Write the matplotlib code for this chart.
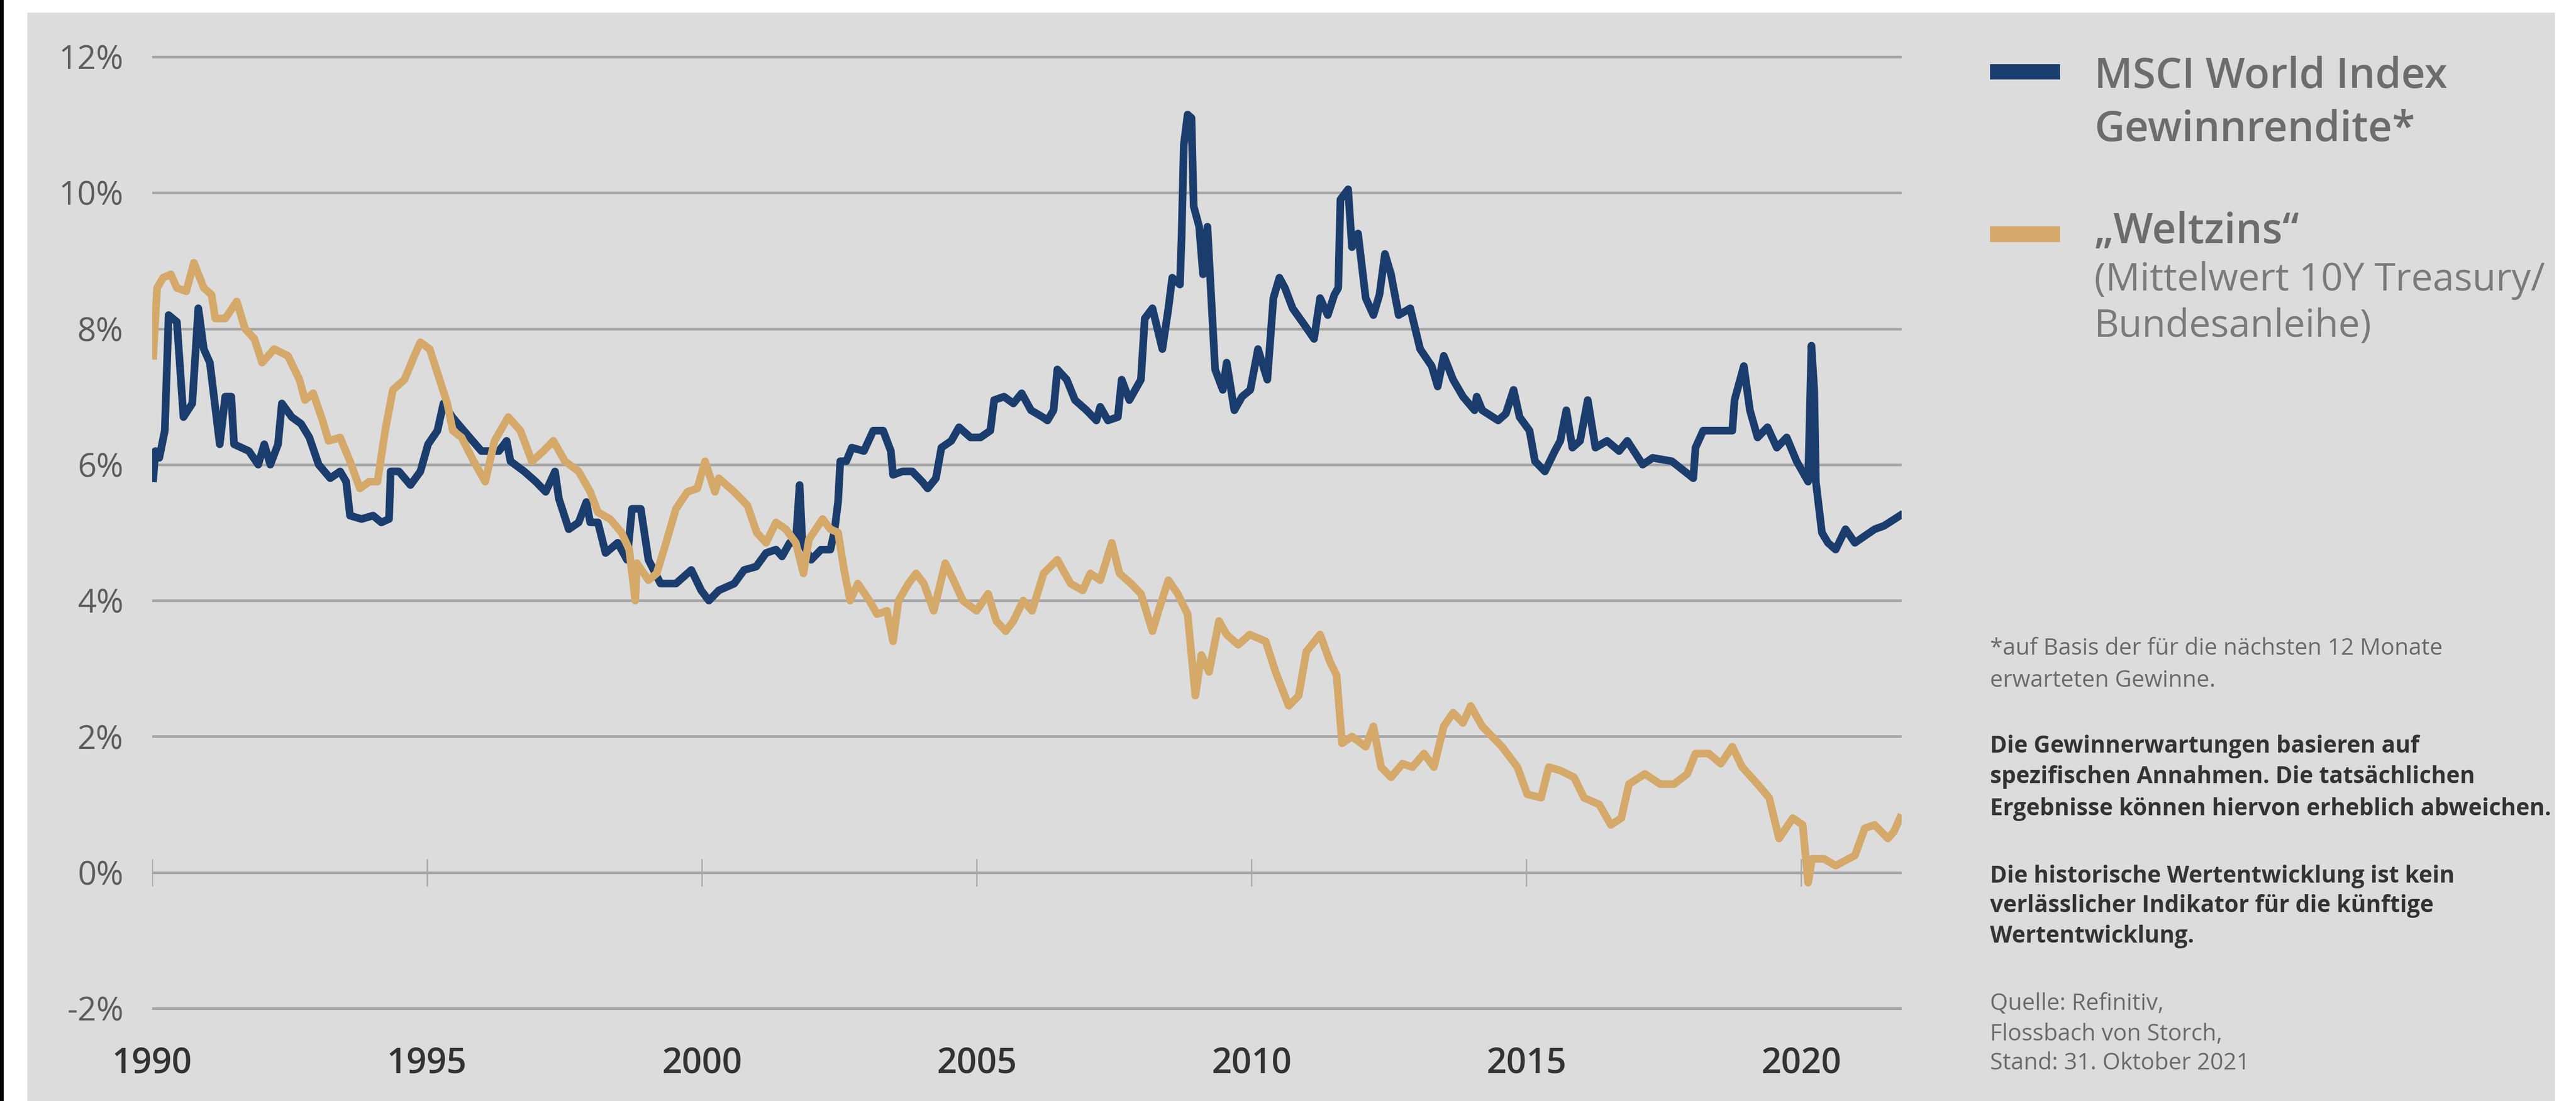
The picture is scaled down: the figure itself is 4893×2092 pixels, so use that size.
import matplotlib
matplotlib.use('Agg')
import matplotlib.pyplot as plt
from matplotlib.patches import Rectangle

# MSCI World Index Gewinnrendite (%)
msci_years = [1990.02, 1990.06, 1990.13, 1990.23, 1990.30, 1990.45, 1990.57, 1990.73, 1990.84, 1990.94,
              1991.05, 1991.23, 1991.33, 1991.44, 1991.49, 1991.76, 1991.93, 1992.04, 1992.15, 1992.29,
              1992.36, 1992.54, 1992.71, 1992.86, 1993.03, 1993.24, 1993.42, 1993.53, 1993.60, 1993.81,
              1994.02, 1994.17, 1994.31, 1994.34, 1994.49, 1994.70, 1994.88, 1995.02, 1995.19, 1995.30,
              1995.46, 1995.67, 1995.99, 1996.20, 1996.31, 1996.45, 1996.52, 1996.77, 1996.98, 1997.16,
              1997.33, 1997.40, 1997.58, 1997.76, 1997.90, 1997.97, 1998.11, 1998.25, 1998.47, 1998.64,
              1998.73, 1998.89, 1999.03, 1999.25, 1999.53, 1999.81, 1999.99, 2000.13, 2000.31, 2000.59,
              2000.77, 2000.99, 2001.17, 2001.35, 2001.46, 2001.60, 2001.71, 2001.78, 2001.83, 2001.99,
              2002.17, 2002.34, 2002.41, 2002.48, 2002.52, 2002.63, 2002.73, 2002.95, 2003.12, 2003.30,
              2003.44, 2003.48, 2003.65, 2003.83, 2004.01, 2004.11, 2004.26, 2004.36, 2004.54, 2004.68,
              2004.89, 2005.07, 2005.25, 2005.32, 2005.50, 2005.67, 2005.82, 2005.99, 2006.20, 2006.29,
              2006.40, 2006.47, 2006.64, 2006.79, 2007.00, 2007.18, 2007.25, 2007.39, 2007.57, 2007.64,
              2007.78, 2007.99, 2008.06, 2008.20, 2008.38, 2008.49, 2008.56, 2008.70, 2008.73, 2008.77,
              2008.84, 2008.91, 2008.95, 2009.05, 2009.12, 2009.20, 2009.27, 2009.34, 2009.48, 2009.55,
              2009.69, 2009.83, 2009.98, 2010.12, 2010.29, 2010.40, 2010.51, 2010.61, 2010.75, 2010.97,
              2011.14, 2011.25, 2011.39, 2011.51, 2011.58, 2011.62, 2011.76, 2011.83, 2011.94, 2012.08,
              2012.22, 2012.33, 2012.43, 2012.54, 2012.68, 2012.89, 2013.07, 2013.28, 2013.39, 2013.50,
              2013.67, 2013.85, 2014.06, 2014.10, 2014.20, 2014.49, 2014.63, 2014.77, 2014.88, 2015.06,
              2015.16, 2015.34, 2015.52, 2015.62, 2015.73, 2015.84, 2015.98, 2016.12, 2016.26, 2016.47,
              2016.69, 2016.84, 2017.12, 2017.30, 2017.65, 2018.04, 2018.08, 2018.22, 2018.50, 2018.75,
              2018.79, 2018.96, 2019.07, 2019.21, 2019.39, 2019.56, 2019.74, 2019.92, 2020.13, 2020.19,
              2020.24, 2020.27, 2020.38, 2020.49, 2020.63, 2020.81, 2020.98, 2021.16, 2021.34, 2021.51,
              2021.80]
msci_vals = [5.8, 6.2, 6.1, 6.5, 8.2, 8.1, 6.7, 6.9, 8.3, 7.7,
             7.5, 6.3, 7.0, 7.0, 6.3, 6.2, 6.0, 6.3, 6.0, 6.3,
             6.9, 6.7, 6.6, 6.4, 6.0, 5.8, 5.9, 5.75, 5.25, 5.2,
             5.25, 5.15, 5.2, 5.9, 5.9, 5.7, 5.9, 6.3, 6.5, 6.9,
             6.7, 6.5, 6.2, 6.2, 6.2, 6.35, 6.05, 5.9, 5.75, 5.6,
             5.9, 5.5, 5.05, 5.15, 5.45, 5.15, 5.15, 4.7, 4.85, 4.6,
             5.35, 5.35, 4.6, 4.25, 4.25, 4.45, 4.15, 4.0, 4.15, 4.25,
             4.45, 4.5, 4.7, 4.75, 4.65, 4.85, 4.85, 5.7, 4.85, 4.6,
             4.75, 4.75, 5.0, 5.45, 6.05, 6.05, 6.25, 6.2, 6.5, 6.5,
             6.2, 5.85, 5.9, 5.9, 5.75, 5.65, 5.8, 6.25, 6.35, 6.55,
             6.4, 6.4, 6.5, 6.95, 7.0, 6.9, 7.05, 6.8, 6.7, 6.65,
             6.8, 7.4, 7.25, 6.95, 6.8, 6.65, 6.85, 6.65, 6.7, 7.25,
             6.95, 7.25, 8.15, 8.3, 7.7, 8.3, 8.75, 8.65, 9.35, 10.7,
             11.15, 11.1, 9.8, 9.5, 8.8, 9.5, 8.45, 7.4, 7.1, 7.5,
             6.8, 7.0, 7.1, 7.7, 7.25, 8.45, 8.75, 8.6, 8.3, 8.05,
             7.85, 8.45, 8.2, 8.5, 8.6, 9.9, 10.05, 9.2, 9.4, 8.45,
             8.2, 8.5, 9.1, 8.8, 8.2, 8.3, 7.7, 7.45, 7.15, 7.6,
             7.25, 7.0, 6.8, 7.0, 6.8, 6.65, 6.75, 7.1, 6.7, 6.5,
             6.05, 5.9, 6.2, 6.35, 6.8, 6.25, 6.35, 6.95, 6.25, 6.35,
             6.2, 6.35, 6.0, 6.1, 6.05, 5.8, 6.25, 6.5, 6.5, 6.5,
             6.95, 7.45, 6.8, 6.4, 6.55, 6.25, 6.4, 6.05, 5.75, 7.75,
             7.1, 5.75, 5.0, 4.85, 4.75, 5.05, 4.85, 4.95, 5.05, 5.1,
             5.25]

# "Weltzins" = mean of 10Y Treasury / Bundesanleihe (%)
zins_years = [1990.02, 1990.09, 1990.20, 1990.34, 1990.45, 1990.62, 1990.76, 1990.94, 1991.08, 1991.15,
              1991.33, 1991.54, 1991.69, 1991.86, 1992.00, 1992.22, 1992.47, 1992.68, 1992.78, 1992.93,
              1993.10, 1993.21, 1993.42, 1993.60, 1993.78, 1993.95, 1994.10, 1994.24, 1994.38, 1994.59,
              1994.77, 1994.88, 1995.05, 1995.23, 1995.37, 1995.47, 1995.63, 1995.85, 1996.06, 1996.23,
              1996.48, 1996.70, 1996.91, 1997.12, 1997.30, 1997.51, 1997.76, 1997.97, 1998.11, 1998.33,
              1998.54, 1998.68, 1998.79, 1998.82, 1999.03, 1999.18, 1999.35, 1999.53, 1999.74, 1999.92,
              2000.06, 2000.24, 2000.31, 2000.59, 2000.83, 2001.00, 2001.17, 2001.35, 2001.53, 2001.71,
              2001.85, 2001.95, 2002.20, 2002.34, 2002.48, 2002.59, 2002.70, 2002.84, 2003.05, 2003.19,
              2003.37, 2003.48, 2003.58, 2003.76, 2003.90, 2004.04, 2004.22, 2004.43, 2004.58, 2004.75,
              2005.00, 2005.21, 2005.36, 2005.53, 2005.67, 2005.85, 2006.01, 2006.22, 2006.47, 2006.71,
              2006.93, 2007.07, 2007.25, 2007.46, 2007.60, 2007.81, 2007.99, 2008.20, 2008.31, 2008.49,
              2008.66, 2008.84, 2008.98, 2009.09, 2009.23, 2009.41, 2009.55, 2009.76, 2009.97, 2010.26,
              2010.44, 2010.68, 2010.86, 2011.00, 2011.25, 2011.43, 2011.55, 2011.65, 2011.83, 2012.08,
              2012.22, 2012.36, 2012.54, 2012.75, 2012.93, 2013.14, 2013.32, 2013.50, 2013.67, 2013.85,
              2013.99, 2014.20, 2014.56, 2014.84, 2015.02, 2015.27, 2015.41, 2015.62, 2015.87, 2016.05,
              2016.33, 2016.54, 2016.73, 2016.87, 2017.16, 2017.44, 2017.69, 2017.93, 2018.08, 2018.32,
              2018.54, 2018.75, 2018.93, 2019.21, 2019.42, 2019.60, 2019.85, 2020.03, 2020.13, 2020.20,
              2020.42, 2020.63, 2020.98, 2021.16, 2021.34, 2021.58, 2021.69, 2021.80]
zins_vals = [7.6, 8.6, 8.75, 8.8, 8.6, 8.55, 8.97, 8.6, 8.5, 8.15,
             8.15, 8.4, 8.0, 7.85, 7.5, 7.7, 7.6, 7.25, 6.95, 7.05,
             6.65, 6.35, 6.4, 6.05, 5.65, 5.75, 5.75, 6.5, 7.1, 7.25,
             7.6, 7.8, 7.7, 7.25, 6.9, 6.5, 6.4, 6.05, 5.75, 6.35,
             6.7, 6.5, 6.05, 6.2, 6.35, 6.05, 5.9, 5.6, 5.3, 5.2,
             5.0, 4.75, 4.0, 4.55, 4.3, 4.4, 4.85, 5.35, 5.6, 5.65,
             6.05, 5.6, 5.8, 5.6, 5.4, 5.0, 4.85, 5.15, 5.05, 4.85,
             4.4, 4.9, 5.2, 5.05, 5.0, 4.45, 4.0, 4.25, 4.0, 3.8,
             3.85, 3.4, 4.0, 4.25, 4.4, 4.25, 3.85, 4.55, 4.3, 4.0,
             3.85, 4.1, 3.7, 3.55, 3.7, 4.0, 3.85, 4.4, 4.6, 4.25,
             4.15, 4.4, 4.3, 4.85, 4.4, 4.25, 4.1, 3.55, 3.85, 4.3,
             4.1, 3.8, 2.6, 3.2, 2.95, 3.7, 3.5, 3.35, 3.5, 3.4,
             2.95, 2.45, 2.6, 3.25, 3.5, 3.1, 2.9, 1.9, 2.0, 1.85,
             2.15, 1.55, 1.4, 1.6, 1.55, 1.75, 1.55, 2.15, 2.35, 2.2,
             2.45, 2.15, 1.85, 1.55, 1.15, 1.1, 1.55, 1.5, 1.4, 1.1,
             1.0, 0.7, 0.8, 1.3, 1.45, 1.3, 1.3, 1.45, 1.75, 1.75,
             1.6, 1.85, 1.55, 1.3, 1.1, 0.5, 0.8, 0.7, -0.15, 0.2,
             0.2, 0.1, 0.25, 0.65, 0.7, 0.5, 0.6, 0.8]

year_ticks = [1990, 1995, 2000, 2005, 2010, 2015, 2020]
pct_ticks = [-2, 0, 2, 4, 6, 8, 10, 12]

W, H = 4893, 2092
DPI = 300
BLUE = '#1b3d6d'
GOLD = '#d4a96a'
FONT = 'Open Sans'


def fx(x):
    return x / W


def fy(y):
    # pixel row measured from the top -> figure fraction
    return 1 - y / H


fig = plt.figure(figsize=(W / DPI, H / DPI), dpi=DPI)
fig.patch.set_facecolor('white')
fig.patches.append(Rectangle((fx(52), 0), fx(4853) - fx(52), fy(24), transform=fig.transFigure,
                             facecolor='#dcdcdc', edgecolor='none', zorder=-2))
fig.patches.append(Rectangle((0, 0), fx(7), 1, transform=fig.transFigure,
                             facecolor='black', edgecolor='none', zorder=-2))

ax = fig.add_axes([fx(289), fy(1929), fx(3612) - fx(289), fy(95) - fy(1929)])
ax.set_facecolor('none')
ax.set_zorder(1)

ax.plot(msci_years, msci_vals, color=BLUE, lw=3.5, solid_joinstyle='round', zorder=3)
ax.plot(zins_years, zins_vals, color=GOLD, lw=3.5, solid_joinstyle='round', zorder=4)

# small year ticks sitting on the 0% line
ax.vlines(year_ticks, -0.2, 0.2, color='#a8a8a8', lw=0.6, zorder=2)

ax.set_xlim(1990, 2021.83)
ax.set_ylim(-2.1, 12.1)
for s in ax.spines.values():
    s.set_visible(False)

ax.set_yticks(pct_ticks)
ax.set_yticklabels([f'{v}%' for v in pct_ticks], fontsize=15, color='#5c5c5c', family=FONT)
ax.set_xticks(year_ticks)
ax.set_xticklabels([str(y) for y in year_ticks], fontsize=16, fontweight='semibold',
                   color='#333333', family=FONT)
ax.tick_params(axis='y', length=0, pad=13)
ax.tick_params(axis='x', length=0, pad=14)
ax.yaxis.grid(True, color='#a6a6a6', lw=1.2, zorder=1)
ax.xaxis.grid(False)
ax.set_axisbelow(True)

# legend, drawn by hand to keep the two-size labels
fig.patches.append(Rectangle((fx(3780), fy(151)), fx(3913) - fx(3780), fy(122) - fy(151),
                             transform=fig.transFigure, facecolor=BLUE, edgecolor='none'))
fig.patches.append(Rectangle((fx(3780), fy(460)), fx(3913) - fx(3780), fy(430) - fy(460),
                             transform=fig.transFigure, facecolor=GOLD, edgecolor='none'))

lx = fx(3978)
fig.text(lx, fy(167), 'MSCI World Index', fontsize=19, fontweight='semibold', color='#6c6c6c',
         family=FONT, va='baseline')
fig.text(lx, fy(268), 'Gewinnrendite*', fontsize=19, fontweight='semibold', color='#6c6c6c',
         family=FONT, va='baseline')
fig.text(lx, fy(462), '\u201eWeltzins\u201c', fontsize=19, fontweight='semibold', color='#6c6c6c',
         family=FONT, va='baseline')
fig.text(lx, fy(552), '(Mittelwert 10Y Treasury/', fontsize=17.5, color='#7a7a7a',
         family=FONT, va='baseline')
fig.text(lx, fy(640), 'Bundesanleihe)', fontsize=17.5, color='#7a7a7a',
         family=FONT, va='baseline')

# footnotes
notes = [
    (1244, '*auf Basis der für die nächsten 12 Monate', 'normal', '#6a6a6a'),
    (1305, 'erwarteten Gewinne.', 'normal', '#6a6a6a'),
    (1430, 'Die Gewinnerwartungen basieren auf', 'bold', '#333333'),
    (1488, 'spezifischen Annahmen. Die tatsächlichen', 'bold', '#333333'),
    (1549, 'Ergebnisse können hiervon erheblich abweichen.', 'bold', '#333333'),
    (1677, 'Die historische Wertentwicklung ist kein', 'bold', '#333333'),
    (1733, 'verlässlicher Indikator für die künftige', 'bold', '#333333'),
    (1791, 'Wertentwicklung.', 'bold', '#333333'),
    (1919, 'Quelle: Refinitiv,', 'normal', '#6a6a6a'),
    (1977, 'Flossbach von Storch,', 'normal', '#6a6a6a'),
    (2032, 'Stand: 31. Oktober 2021', 'normal', '#6a6a6a'),
]
for y, txt, wt, col in notes:
    fig.text(fx(3780), fy(y), txt, fontsize=10.5, fontweight=wt, color=col, family=FONT, va='baseline')

fig.savefig('out.png', dpi=DPI)
